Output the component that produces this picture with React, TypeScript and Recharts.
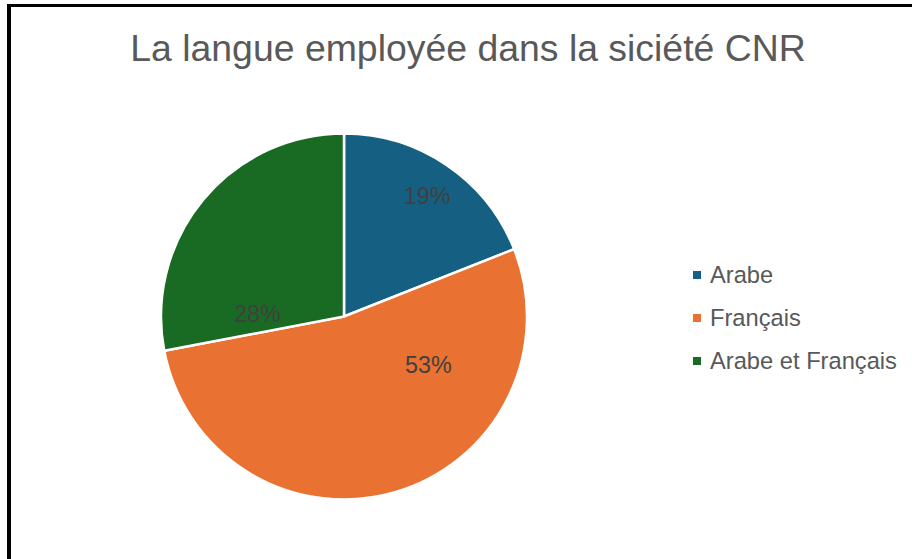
import React from 'react';
import { PieChart, Pie, Cell, Legend } from 'recharts';

const CATEGORIES = ['Arabe', 'Français', 'Arabe et Français'];
const VALUES = [19, 53, 28];
const COLORS = ['#156082', '#E97132', '#196B24'];
const TITLE = 'La langue employée dans la siciété CNR';

// label placement relative to pie centre, as fraction of outer radius (Excel best-fit look)
const LABEL_OFFSETS: [number, number][] = [
  [0.454, -0.661],
  [0.461, 0.265],
  [-0.473, -0.014],
];

const data = CATEGORIES.map((name, i) => ({ name, value: VALUES[i] }));
const total = VALUES.reduce((a, b) => a + b, 0);
const FONT = '"Liberation Sans", Arial, sans-serif';

const renderLabel = (props: any) => {
  const { cx, cy, outerRadius, index, value } = props;
  const [fx, fy] = LABEL_OFFSETS[index];
  const x = cx + fx * outerRadius;
  const y = cy + fy * outerRadius;
  return (
    <text
      x={x}
      y={y}
      textAnchor="middle"
      dominantBaseline="central"
      fill="#404040"
      style={{ fontFamily: FONT, fontSize: 23.3 }}
    >
      {`${Math.round((value / total) * 100)}%`}
    </text>
  );
};

const renderLegend = () => (
  <div style={{ fontFamily: FONT, fontSize: 23.7, color: '#595959' }}>
    {CATEGORIES.map((c, i) => (
      <div key={c} style={{ display: 'flex', alignItems: 'center', height: 43 }}>
        <span
          style={{
            display: 'inline-block',
            width: 8,
            height: 8,
            background: COLORS[i],
            marginRight: 9,
          }}
        />
        <span>{c}</span>
      </div>
    ))}
  </div>
);

export default function App() {
  return (
    <div
      style={{
        position: 'absolute',
        left: 0,
        top: 0,
        width: 912,
        height: 559,
        overflow: 'hidden',
        background: '#fff',
      }}
    >
      <div
        style={{
          position: 'absolute',
          left: 7,
          top: 4,
          width: 1000,
          height: 1000,
          borderTop: '3px solid #000',
          borderLeft: '4px solid #000',
        }}
      />
      <div
        style={{
          position: 'absolute',
          left: 0,
          top: 29.5,
          width: 936,
          textAlign: 'center',
          fontFamily: FONT,
          fontSize: 37.4,
          lineHeight: '37px',
          color: '#595959',
          whiteSpace: 'nowrap',
        }}
      >
        {TITLE}
      </div>
      <div style={{ position: 'absolute', left: 0, top: 0 }}>
        <PieChart width={912} height={559} margin={{ top: 0, right: 0, bottom: 0, left: 0 }}>
          <Pie
            data={data}
            dataKey="value"
            nameKey="name"
            cx={344}
            cy={316.5}
            outerRadius={183}
            startAngle={90}
            endAngle={-270}
            stroke="#ffffff"
            strokeWidth={2.5}
            label={renderLabel}
            labelLine={false}
            isAnimationActive={false}
          >
            {data.map((d, i) => (
              <Cell key={d.name} fill={COLORS[i]} />
            ))}
          </Pie>
          <Legend
            content={renderLegend}
            layout="vertical"
            wrapperStyle={{ position: 'absolute', left: 693, top: 253.5, width: 220 }}
          />
        </PieChart>
      </div>
    </div>
  );
}
